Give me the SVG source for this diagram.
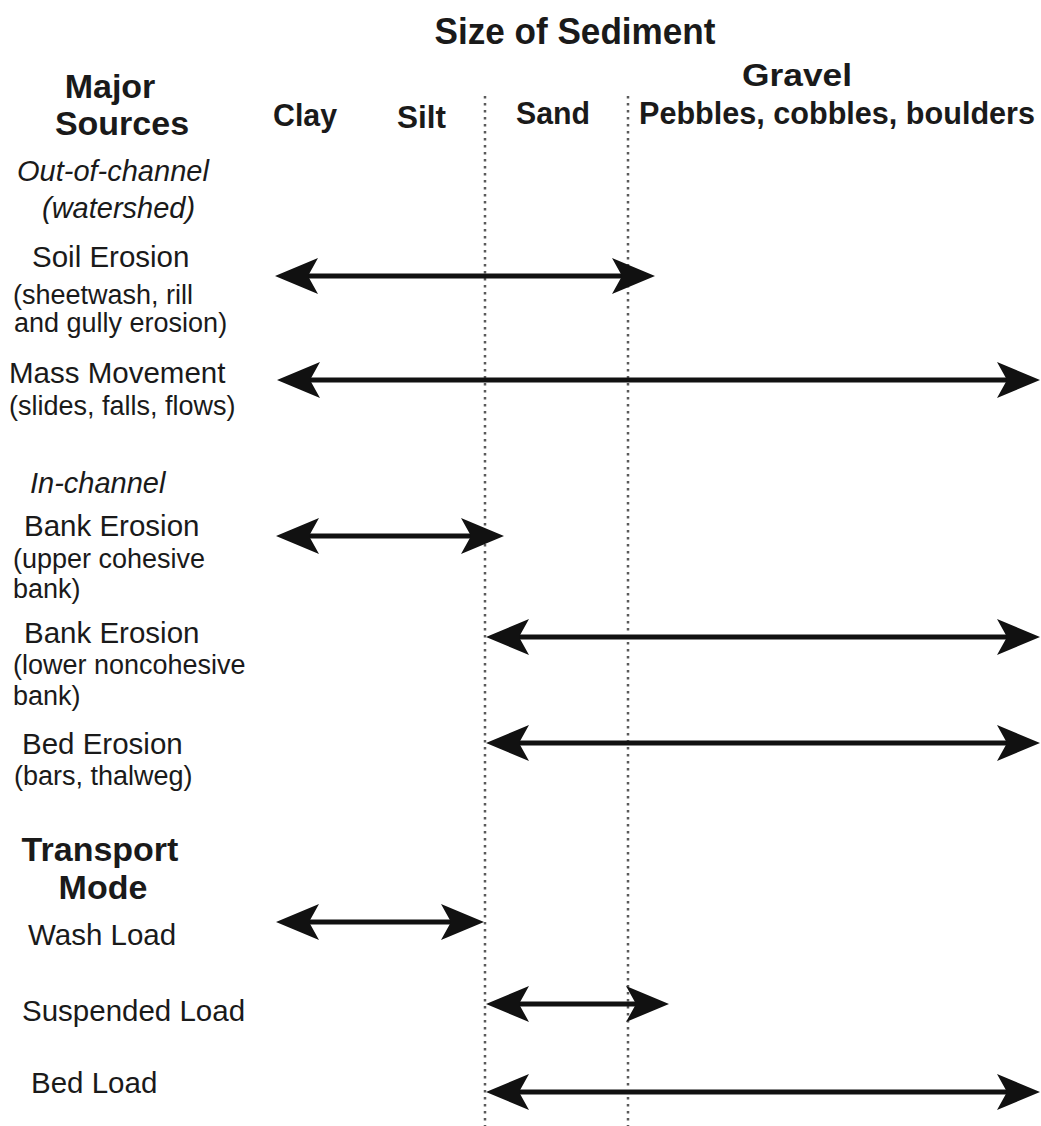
<svg xmlns="http://www.w3.org/2000/svg" width="1041" height="1126" viewBox="0 0 1041 1126">
  <style>
    text { font-family: "Liberation Sans", Arial, sans-serif; fill: #1a1a1a; }
    .title { font-size: 36px; font-weight: bold; }
    .col { font-size: 32px; font-weight: bold; }
    .head { font-size: 34px; font-weight: bold; }
    .grp { font-size: 29px; font-style: italic; }
    .lbl { font-size: 29.5px; }
    .sub { font-size: 27px; }
    .divider { stroke: #5a5a5a; stroke-width: 2.5; stroke-dasharray: 2.5 4.5; fill: none; }
    .range { stroke: #111; stroke-width: 5; fill: none; marker-start: url(#head); marker-end: url(#head); }
  </style>
  <defs>
    <!-- notched arrowhead, tip at x=0; line joins at the notch -->
    <marker id="head" markerUnits="userSpaceOnUse" viewBox="-45 -20 47 40" markerWidth="47" markerHeight="40" refX="-33" refY="0" orient="auto-start-reverse">
      <path d="M0,0 L-43,-18 L-33,0 L-43,18 Z" fill="#111"/>
    </marker>
  </defs>

  <rect width="1041" height="1126" fill="#fff"/>

  <!-- size class dividers -->
  <g id="dividers">
    <line class="divider" x1="485" y1="96" x2="485" y2="1126"/>
    <line class="divider" x1="628" y1="96" x2="628" y2="1126"/>
  </g>

  <!-- column headings -->
  <g id="title"><text class="title" x="575" y="44" text-anchor="middle" textLength="281" lengthAdjust="spacingAndGlyphs">Size of Sediment</text></g>
  <g id="col-clay"><text class="col" x="273" y="126" textLength="64" lengthAdjust="spacingAndGlyphs">Clay</text></g>
  <g id="col-silt"><text class="col" x="397" y="128" textLength="49" lengthAdjust="spacingAndGlyphs">Silt</text></g>
  <g id="col-sand"><text class="col" x="516" y="124" textLength="74" lengthAdjust="spacingAndGlyphs">Sand</text></g>
  <g id="col-gravel">
    <text class="col" x="797" y="86" text-anchor="middle" textLength="110" lengthAdjust="spacingAndGlyphs">Gravel</text>
    <text class="col" x="639" y="124" textLength="396" lengthAdjust="spacingAndGlyphs">Pebbles, cobbles, boulders</text>
  </g>

  <!-- row labels -->
  <g id="major-sources">
    <text class="head" x="110" y="98" text-anchor="middle">Major</text>
    <text class="head" x="122" y="135" text-anchor="middle">Sources</text>
  </g>
  <g id="out-of-channel">
    <text class="grp" x="17" y="181">Out-of-channel</text>
    <text class="grp" x="42" y="218">(watershed)</text>
  </g>
  <g id="soil-erosion">
    <text class="lbl" x="32" y="267">Soil Erosion</text>
    <text class="sub" x="13" y="304">(sheetwash, rill</text>
    <text class="sub" x="14" y="332">and gully erosion)</text>
  </g>
  <g id="mass-movement">
    <text class="lbl" x="9" y="383">Mass Movement</text>
    <text class="sub" x="9" y="415">(slides, falls, flows)</text>
  </g>
  <g id="in-channel">
    <text class="grp" x="30" y="493">In-channel</text>
  </g>
  <g id="bank-upper">
    <text class="lbl" x="24" y="536">Bank Erosion</text>
    <text class="sub" x="13" y="568">(upper cohesive</text>
    <text class="sub" x="13" y="598">bank)</text>
  </g>
  <g id="bank-lower">
    <text class="lbl" x="24" y="643">Bank Erosion</text>
    <text class="sub" x="13" y="674">(lower noncohesive</text>
    <text class="sub" x="13" y="705">bank)</text>
  </g>
  <g id="bed-erosion">
    <text class="lbl" x="22" y="754">Bed Erosion</text>
    <text class="sub" x="14" y="785">(bars, thalweg)</text>
  </g>
  <g id="transport-mode">
    <text class="head" x="100" y="861" text-anchor="middle">Transport</text>
    <text class="head" x="103" y="899" text-anchor="middle">Mode</text>
  </g>
  <g id="wash-load"><text class="lbl" x="28" y="945">Wash Load</text></g>
  <g id="suspended-load"><text class="lbl" x="22" y="1021">Suspended Load</text></g>
  <g id="bed-load"><text class="lbl" x="31" y="1093">Bed Load</text></g>

  <!-- size ranges (tips sit 33px beyond each line end) -->
  <g id="connectors">
    <line class="range" x1="308" y1="276" x2="622" y2="276"/>
    <line class="range" x1="310" y1="380" x2="1007" y2="380"/>
    <line class="range" x1="309" y1="536" x2="471" y2="536"/>
    <line class="range" x1="519" y1="637" x2="1007" y2="637"/>
    <line class="range" x1="519" y1="743" x2="1007" y2="743"/>
    <line class="range" x1="309" y1="922" x2="451" y2="922"/>
    <line class="range" x1="519" y1="1004" x2="636" y2="1004"/>
    <line class="range" x1="519" y1="1092" x2="1007" y2="1092"/>
  </g>
</svg>
